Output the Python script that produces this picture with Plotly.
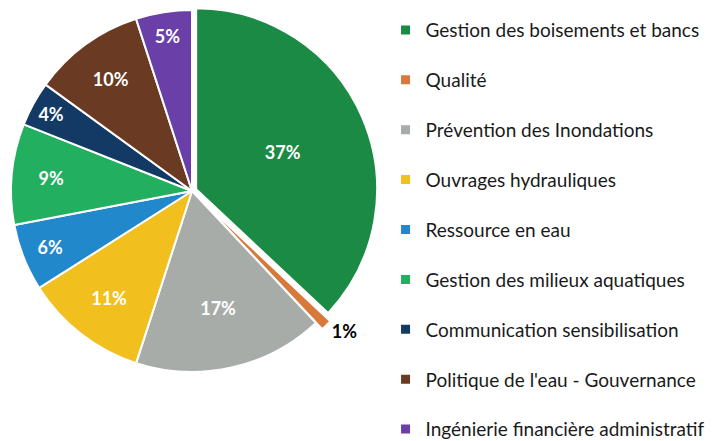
import plotly.graph_objects as go

categories = [
    "Gestion des boisements et bancs",
    "Qualité",
    "Prévention des Inondations",
    "Ouvrages hydrauliques",
    "Ressource en eau",
    "Gestion des milieux aquatiques",
    "Communication sensibilisation",
    "Politique de l'eau - Gouvernance",
    "Ingénierie financière administratif",
]
values = [37, 1, 17, 11, 6, 9, 4, 10, 5]
colors = ["#1a8a44", "#d8783a", "#a7aca9", "#f2c01e", "#2288cc",
          "#22b060", "#133a64", "#6b3a22", "#6a3fa8"]
pulls = [0.025, 0.05, 0, 0, 0, 0, 0, 0, 0]
text_positions = ["inside", "outside", "inside", "inside", "inside",
                  "inside", "inside", "inside", "inside"]

fig = go.Figure()
fig.add_trace(go.Pie(
    labels=categories,
    values=values,
    sort=False,
    direction="clockwise",
    rotation=0,
    pull=pulls,
    marker=dict(colors=colors, line=dict(color="white", width=2)),
    textinfo="percent",
    texttemplate="%{percent:.0%}",
    textposition=text_positions,
    insidetextorientation="horizontal",
    insidetextfont=dict(family="Lato", size=18, color="white", weight="bold"),
    outsidetextfont=dict(family="Lato", size=18, color="black", weight="bold"),
    showlegend=False,
    domain=dict(x=[2 / 712, 382 / 712], y=[1 - 381 / 441, 1 - 1 / 441]),
))

for name, col in zip(categories, colors):
    fig.add_trace(go.Scatter(
        x=[None], y=[None], mode="markers", name=name,
        legendgroup=name,
        marker=dict(symbol="square", size=9, color=col),
    ))

fig.update_layout(
    width=712, height=441,
    margin=dict(l=0, r=0, t=0, b=0, autoexpand=False),
    paper_bgcolor="white", plot_bgcolor="white",
    xaxis=dict(visible=False), yaxis=dict(visible=False),
    legend=dict(
        x=0.5415, y=0.975, xanchor="left", yanchor="top",
        font=dict(family="Lato", size=19, color="#1a1a1a"),
        tracegroupgap=22.2, traceorder="grouped",
        itemwidth=30, maxheight=700,
    ),
)

fig.write_html(
    "out.html",
    config={"displayModeBar": False},
    post_script="document.body.style.margin='0';document.body.style.overflow='hidden';",
)
